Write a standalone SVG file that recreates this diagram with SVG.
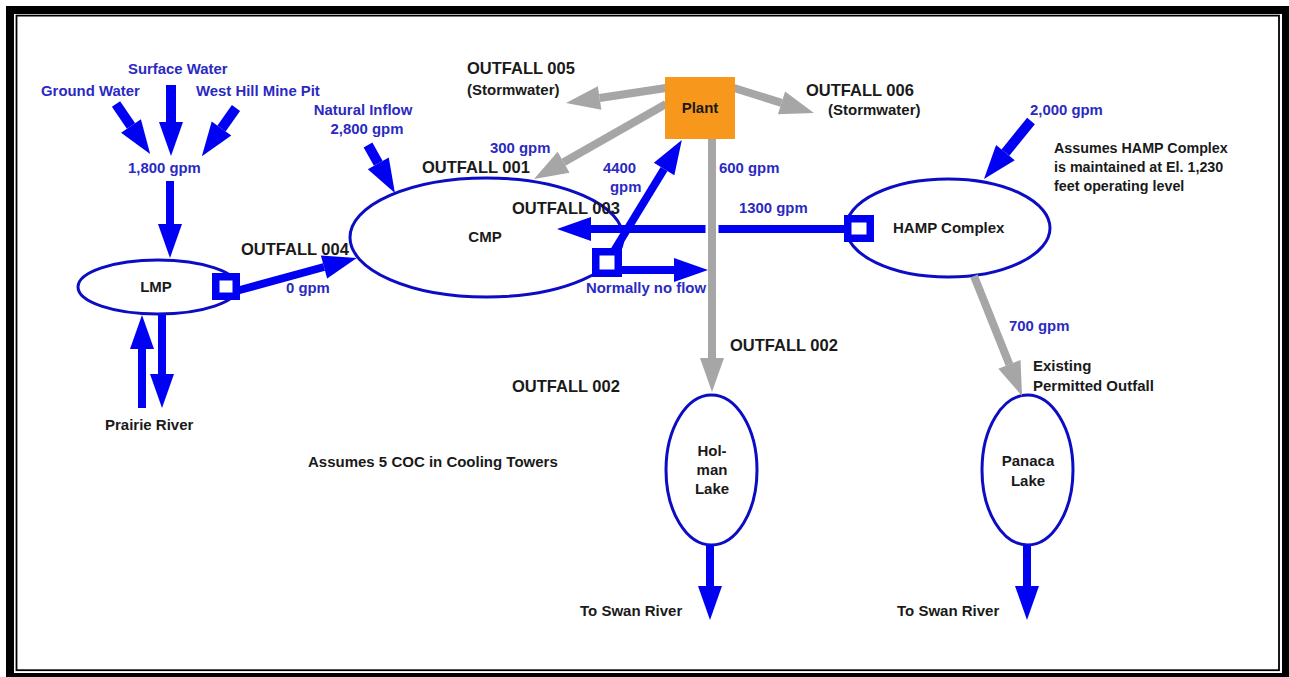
<svg xmlns="http://www.w3.org/2000/svg" width="1289" height="677" viewBox="0 0 1289 677">
<style>
.t{font-family:"Liberation Sans",Arial,sans-serif;font-weight:bold}
.b{fill:#2a2ac2;font-size:14.9px}
.k{fill:#1a1a1a;font-size:15px}
.o{fill:#1a1a1a;font-size:16.5px}
.n{font-size:14.3px}
.lake{fill:#fff;stroke:#0c0cc4;stroke-width:3}
.ba{stroke:#0000f2;stroke-width:8;fill:none;marker-end:url(#hb)}
.bw{stroke-width:10}
.ga{stroke:#a6a6a6;stroke-width:8;fill:none;marker-end:url(#hg)}
.sq{fill:#fff;stroke:#0000f2;stroke-width:7.5}
</style>
<defs>
<marker id="hb" markerUnits="userSpaceOnUse" markerWidth="34" markerHeight="24" refX="0" refY="12" orient="auto" overflow="visible"><path d="M0,0 L34,12 L0,24 z" fill="#0000f2"/></marker>
<marker id="hg" markerUnits="userSpaceOnUse" markerWidth="34" markerHeight="24" refX="0" refY="12" orient="auto" overflow="visible"><path d="M0,0 L34,12 L0,24 z" fill="#a6a6a6"/></marker>
</defs>
<rect x="0" y="0" width="1289" height="677" fill="#fff"/>
<rect x="6" y="6" width="1300" height="700" fill="#000"/>
<rect x="14" y="14" width="1268" height="659" fill="#fff"/>
<rect x="16.5" y="15.6" width="1262.5" height="654.6" fill="none" stroke="#000" stroke-width="1.8"/>

<g id="cmp"><ellipse class="lake" cx="486.5" cy="237.5" rx="136.5" ry="59.5"/><text class="t k" x="485" y="242" text-anchor="middle">CMP</text></g>
<g id="lmp"><ellipse class="lake" cx="158" cy="287" rx="80" ry="27"/><text class="t k" x="156" y="292" text-anchor="middle">LMP</text></g>
<g id="hamp"><ellipse class="lake" cx="948" cy="228" rx="102" ry="49"/><text class="t k" x="893" y="233">HAMP Complex</text></g>
<g id="holman"><ellipse class="lake" cx="711.5" cy="470" rx="45.5" ry="75"/><text class="t k" x="712" y="456" text-anchor="middle">Hol-</text><text class="t k" x="712" y="475" text-anchor="middle">man</text><text class="t k" x="712" y="494" text-anchor="middle">Lake</text></g>
<g id="panaca"><ellipse class="lake" cx="1027.5" cy="470" rx="45.5" ry="75"/><text class="t k" x="1028" y="466" text-anchor="middle">Panaca</text><text class="t k" x="1028" y="486" text-anchor="middle">Lake</text></g>

<g id="connectors">
<line class="ba bw" x1="116" y1="104" x2="131" y2="126"/>
<line class="ba bw" x1="171" y1="85" x2="171" y2="122"/>
<line class="ba bw" x1="236" y1="108" x2="221.5" y2="128.5"/>
<line class="ba" x1="170" y1="181" x2="170" y2="224"/>
<line class="ba" x1="238" y1="290.5" x2="324" y2="267"/>
<line class="ba bw" x1="368" y1="145" x2="378.3" y2="163.4"/>
<line class="ba bw" x1="1031" y1="121" x2="1005.4" y2="152.6"/>
<line class="ba" x1="845" y1="229" x2="591" y2="229"/>
<line class="ba" x1="614" y1="251" x2="664.1" y2="169"/>
<line class="ba" x1="620" y1="270" x2="674" y2="270"/>
<line class="ba" x1="710" y1="545" x2="710" y2="586"/>
<line class="ba" x1="1027" y1="545" x2="1027" y2="586"/>
<line class="ba" x1="142" y1="408" x2="142" y2="349"/>
<line class="ba" x1="162" y1="315" x2="162" y2="374"/>
<line class="ga" x1="666" y1="88" x2="599.6" y2="98"/>
<line class="ga" x1="666" y1="104" x2="563.6" y2="162.2"/>
<line class="ga" x1="734" y1="88" x2="781.5" y2="102.9"/>
<line x1="712" y1="222" x2="712" y2="236" stroke="#fff" stroke-width="13"/>
<line class="ga" x1="712" y1="139" x2="712" y2="358"/>
<line class="ga" x1="974" y1="276" x2="1009.4" y2="364.4"/>
</g>

<g id="sq-lmp"><rect class="sq" x="215.75" y="276.75" width="20.5" height="19.5"/></g>
<g id="sq-cmp"><rect class="sq" x="595.75" y="251.75" width="22.5" height="21.5"/></g>
<g id="sq-hamp"><rect class="sq" x="847.75" y="218.75" width="22.5" height="19.5"/></g>

<g id="plant"><rect x="665" y="77" width="70" height="62" fill="#f7981d"/><text class="t k" x="700" y="113" text-anchor="middle">Plant</text></g>

<g id="labels">
<text class="t b" x="128" y="74">Surface Water</text>
<text class="t b" x="41" y="96">Ground Water</text>
<text class="t b" x="196" y="96">West Hill Mine Pit</text>
<text class="t b" x="128" y="173">1,800 gpm</text>
<text class="t b" x="363" y="115" text-anchor="middle">Natural Inflow</text>
<text class="t b" x="367" y="134" text-anchor="middle">2,800 gpm</text>
<text class="t b" x="490" y="153">300 gpm</text>
<text class="t b" x="603" y="173">4400</text>
<text class="t b" x="610" y="192">gpm</text>
<text class="t b" x="719" y="173">600 gpm</text>
<text class="t b" x="739" y="213">1300 gpm</text>
<text class="t b" x="286" y="293">0 gpm</text>
<text class="t b" x="586" y="293">Normally no flow</text>
<text class="t b" x="1030" y="115">2,000 gpm</text>
<text class="t b" x="1009" y="331">700 gpm</text>
<text class="t o" x="467" y="74">OUTFALL 005</text>
<text class="t k" x="467" y="95">(Stormwater)</text>
<text class="t o" x="806" y="96">OUTFALL 006</text>
<text class="t k" x="828" y="115">(Stormwater)</text>
<text class="t o" x="422" y="173">OUTFALL 001</text>
<text class="t o" x="512" y="214">OUTFALL 003</text>
<text class="t o" x="241" y="255">OUTFALL 004</text>
<text class="t o" x="730" y="351">OUTFALL 002</text>
<text class="t o" x="512" y="392">OUTFALL 002</text>
<text class="t k n" x="1054" y="153">Assumes HAMP Complex</text>
<text class="t k n" x="1054" y="172">is maintained at El. 1,230</text>
<text class="t k n" x="1054" y="191">feet operating level</text>
<text class="t k" x="105" y="430">Prairie River</text>
<text class="t k" x="308" y="467">Assumes 5 COC in Cooling Towers</text>
<text class="t k" x="580" y="616">To Swan River</text>
<text class="t k" x="897" y="616">To Swan River</text>
<text class="t k" x="1033" y="371">Existing</text>
<text class="t k" x="1033" y="391">Permitted Outfall</text>
</g>
</svg>
